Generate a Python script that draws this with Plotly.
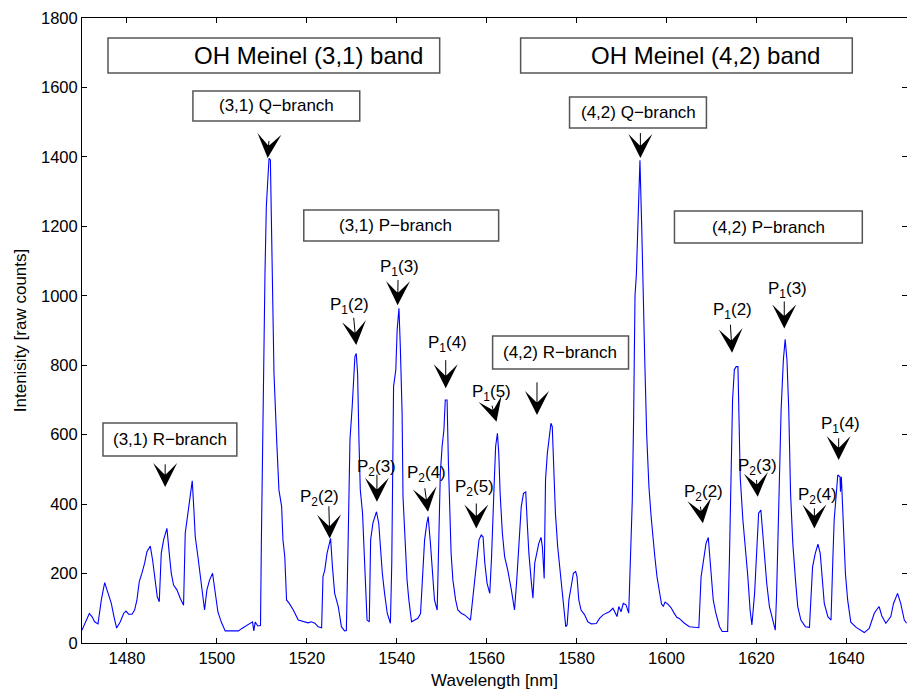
import plotly.graph_objects as go

# OH Meinel airglow spectrum: wavelength [nm] and intensity [raw counts]
wavelength_nm = [
    1470.00, 1470.74, 1471.63, 1472.22, 1472.81, 1473.56, 1474.30, 1475.04, 1475.78, 1476.52,
    1477.11, 1477.70, 1478.52, 1479.26, 1479.78, 1480.37, 1481.11, 1481.70, 1482.22, 1482.74,
    1483.33, 1483.93, 1484.44, 1485.19, 1485.70, 1486.30, 1486.74, 1487.19, 1487.63, 1488.15,
    1488.89, 1489.41, 1489.85, 1490.37, 1491.11, 1491.85, 1492.59, 1492.96, 1493.56, 1494.07,
    1494.52, 1494.89, 1495.19, 1495.78, 1496.30, 1496.81, 1497.26, 1497.78, 1498.37, 1499.04,
    1499.63, 1500.22, 1500.96, 1501.85, 1503.33, 1504.81, 1505.56, 1506.44, 1507.41, 1507.93,
    1508.22, 1508.52, 1509.11, 1509.70, 1509.90, 1510.30, 1510.70, 1511.00, 1511.60, 1511.90,
    1512.30, 1512.70, 1513.30, 1513.80, 1514.40, 1514.70, 1515.10, 1515.50, 1516.10, 1517.00,
    1518.10, 1519.20, 1520.30, 1521.00, 1521.80, 1522.50, 1523.30, 1523.60, 1524.00, 1524.50,
    1525.30, 1525.70, 1526.20, 1527.00, 1527.70, 1528.40, 1528.80, 1529.20, 1529.60, 1530.10,
    1530.70, 1531.00, 1531.30, 1531.60, 1531.90, 1532.40, 1532.90, 1533.40, 1533.90, 1534.20,
    1534.70, 1535.50, 1536.00, 1536.30, 1536.80, 1537.30, 1537.90, 1538.60, 1538.90, 1539.30,
    1539.80, 1540.10, 1540.50, 1540.80, 1541.20, 1541.40, 1541.80, 1542.30, 1542.70, 1543.30,
    1544.00, 1544.70, 1545.30, 1545.70, 1546.20, 1546.70, 1547.00, 1547.50, 1547.90, 1548.40,
    1549.00, 1549.30, 1549.70, 1550.10, 1550.50, 1550.80, 1551.20, 1551.50, 1551.80, 1552.10,
    1552.50, 1553.10, 1553.60, 1554.40, 1555.10, 1555.90, 1556.40, 1556.80, 1557.30, 1557.90,
    1558.30, 1558.80, 1559.20, 1559.60, 1560.10, 1560.70, 1561.10, 1561.60, 1562.00, 1562.40,
    1562.70, 1563.00, 1563.50, 1564.00, 1564.70, 1565.50, 1566.20, 1566.70, 1567.20, 1567.70,
    1568.20, 1568.70, 1569.00, 1569.40, 1569.90, 1570.30, 1570.70, 1571.20, 1571.60, 1572.10,
    1572.40, 1572.80, 1573.10, 1573.50, 1573.90, 1574.30, 1574.60, 1574.90, 1575.30, 1575.80,
    1576.40, 1577.00, 1577.60, 1577.90, 1578.30, 1578.80, 1579.30, 1579.80, 1580.10, 1580.50,
    1581.00, 1581.80, 1582.50, 1583.30, 1584.40, 1585.10, 1585.90, 1586.60, 1587.30, 1588.10,
    1588.70, 1589.00, 1589.40, 1589.90, 1590.40, 1591.00, 1591.60, 1591.90, 1592.40, 1592.70,
    1593.00, 1593.30, 1593.70, 1594.10, 1594.50, 1594.80, 1595.20, 1595.60, 1596.10, 1596.60,
    1597.00, 1597.40, 1597.90, 1598.40, 1598.90, 1599.30, 1599.70, 1600.30, 1601.00, 1601.70,
    1602.30, 1602.90, 1604.00, 1605.10, 1606.20, 1607.20, 1607.70, 1608.20, 1608.80, 1609.30,
    1609.70, 1610.00, 1610.40, 1611.00, 1611.80, 1612.40, 1613.30, 1613.60, 1614.00, 1614.40,
    1614.70, 1615.10, 1615.50, 1615.90, 1616.10, 1616.40, 1617.00, 1617.60, 1618.10, 1618.60,
    1619.00, 1619.60, 1620.10, 1620.50, 1621.00, 1621.40, 1621.90, 1622.30, 1622.90, 1623.60,
    1624.20, 1624.50, 1625.00, 1625.50, 1626.00, 1626.40, 1626.80, 1627.20, 1627.60, 1628.10,
    1628.70, 1629.20, 1629.90, 1630.90, 1631.80, 1632.10, 1632.50, 1633.10, 1633.70, 1634.20,
    1634.60, 1635.10, 1635.90, 1636.60, 1637.00, 1637.30, 1637.90, 1638.10, 1638.60, 1638.70,
    1638.90, 1639.30, 1639.80, 1640.30, 1641.00, 1642.20, 1643.30, 1644.00, 1645.10, 1646.20,
    1646.70, 1647.30, 1647.90, 1648.80, 1649.90, 1650.50, 1651.40, 1652.10, 1652.90, 1653.40,
]

intensity = [
    37, 61, 85, 76, 61, 55, 124, 174, 143, 114,
    76, 43, 61, 85, 92, 83, 83, 95, 124, 177,
    201, 230, 263, 279, 239, 181, 133, 119, 258, 297,
    330, 258, 201, 167, 153, 129, 109, 316, 374, 431,
    467, 383, 306, 249, 191, 133, 95, 153, 181, 201,
    143, 90, 61, 35, 35, 35, 42, 49, 55, 61,
    35, 60, 49, 50, 297, 777, 1065, 1257, 1396, 1391,
    1065, 777, 585, 441, 393, 297, 249, 124, 114, 95,
    66, 61, 58, 61, 57, 47, 44, 191, 210, 258,
    301, 220, 143, 105, 47, 35, 36, 297, 585, 681,
    825, 834, 777, 585, 441, 374, 220, 66, 61, 297,
    345, 378, 345, 277, 201, 143, 85, 57, 230, 739,
    787, 902, 964, 854, 662, 421, 297, 181, 124, 61,
    66, 71, 85, 181, 297, 345, 364, 287, 201, 124,
    95, 277, 489, 566, 614, 700, 700, 518, 354, 258,
    181, 124, 95, 85, 81, 71, 66, 114, 181, 249,
    297, 311, 306, 230, 172, 143, 249, 431, 566, 604,
    546, 431, 316, 249, 210, 153, 95, 181, 297, 393,
    431, 435, 354, 258, 181, 129, 230, 258, 287, 304,
    277, 186, 470, 546, 595, 633, 623, 527, 374, 277,
    201, 124, 47, 52, 124, 162, 201, 206, 191, 124,
    95, 81, 61, 55, 56, 71, 81, 86, 90, 100,
    86, 76, 105, 90, 114, 110, 86, 220, 412, 652,
    1000, 1060, 1220, 1390, 1195, 990, 800, 600, 450, 362,
    300, 250, 190, 150, 112, 106, 118, 112, 102, 86,
    74, 70, 57, 47, 45, 44, 191, 239, 287, 304,
    239, 181, 124, 85, 47, 33, 32, 33, 239, 527,
    700, 787, 796, 796, 671, 479, 354, 268, 191, 95,
    52, 143, 268, 374, 383, 316, 239, 172, 105, 66,
    37, 143, 431, 671, 815, 875, 815, 671, 431, 287,
    181, 105, 66, 47, 45, 143, 220, 258, 285, 258,
    181, 114, 76, 66, 239, 354, 450, 484, 479, 436,
    479, 335, 201, 124, 60, 45, 35, 30, 42, 85,
    95, 105, 78, 57, 76, 114, 143, 114, 66, 57,
]

x_tick_values = [1480, 1500, 1520, 1540, 1560, 1580, 1600, 1620, 1640]
y_tick_values = [0, 200, 400, 600, 800, 1000, 1200, 1400, 1600, 1800]

# Framed captions: text and its anchor (nm, counts), font size
box_texts = ["OH Meinel (3,1) band", "OH Meinel (4,2) band",
             "(3,1) Q\u2212branch", "(4,2) Q\u2212branch",
             "(3,1) P\u2212branch", "(4,2) P\u2212branch",
             "(3,1) R\u2212branch", "(4,2) R\u2212branch"]
box_text_x = [1520.3, 1608.7, 1513.2, 1593.7, 1539.8, 1622.7, 1489.6, 1576.4]
box_text_y = [1691, 1691, 1547, 1528, 1202, 1198, 586, 837]
box_font = [24, 24, 17, 17, 17, 17, 17, 17]
# Frame extents of the captions (nm, counts)
frame_x0 = [1475.78, 1567.56, 1494.67, 1578.44, 1519.33, 1601.78, 1474.67, 1561.33]
frame_x1 = [1549.56, 1641.33, 1531.78, 1608.89, 1562.67, 1643.56, 1504.44, 1591.56]
frame_y0 = [1641.7, 1641.7, 1503.5, 1483.3, 1157.8, 1152.1, 538.6, 789.2]
frame_y1 = [1742.5, 1742.5, 1589.9, 1572.6, 1247.1, 1244.2, 633.6, 884.2]

# Line labels (P_n(J)) placed beside their arrows
line_texts = ["P<sub>2</sub>(2)", "P<sub>1</sub>(2)", "P<sub>2</sub>(3)", "P<sub>1</sub>(3)",
              "P<sub>2</sub>(4)", "P<sub>1</sub>(4)", "P<sub>2</sub>(5)", "P<sub>1</sub>(5)",
              "P<sub>2</sub>(2)", "P<sub>1</sub>(2)", "P<sub>2</sub>(3)", "P<sub>1</sub>(3)",
              "P<sub>2</sub>(4)", "P<sub>1</sub>(4)"]
line_x = [1522.9, 1529.5, 1535.6, 1540.7, 1546.6, 1551.4, 1557.3, 1561.0,
          1608.2, 1614.6, 1620.3, 1627.0, 1633.6, 1638.7]
line_y = [418, 970, 503, 1081, 488, 860, 447, 721,
          433, 956, 508, 1018, 423, 629]

# Arrows: tail (nm, counts) -> tip (nm, counts)
arrow_tail_x = [1488.5, 1511.6, 1524.9, 1530.4, 1535.6, 1540.3, 1546.2, 1550.9, 1557.7, 1561.1,
                1571.2, 1594.2, 1607.5, 1614.2, 1620.0, 1626.2, 1632.9, 1638.3]
arrow_tail_y = [519, 1450, 398, 941, 489, 1050, 450, 819, 406, 688,
                755, 1473, 397, 921, 474, 988, 392, 594]
arrow_tip_x = [1488.5, 1511.3, 1525.1, 1531.0, 1535.6, 1540.2, 1546.96, 1550.9, 1557.7, 1562.2,
               1571.2, 1594.2, 1608.1, 1614.6, 1620.3, 1626.2, 1632.9, 1638.3]
arrow_tip_y = [449, 1397, 301, 858, 407, 973, 378, 734, 330, 637,
               657, 1397, 345, 836, 421, 906, 330, 527]

FONT = "Liberation Sans, Arial, Helvetica, sans-serif"

fig = go.Figure()
fig.add_trace(go.Scatter(
    x=wavelength_nm, y=intensity, mode="lines",
    line=dict(color="#0000ff", width=1.1), showlegend=False, hoverinfo="x+y",
))

shapes = []
for x0, x1, y0, y1 in zip(frame_x0, frame_x1, frame_y0, frame_y1):
    shapes.append(dict(
        type="rect", xref="x", yref="y", x0=x0, x1=x1, y0=y0, y1=y1,
        line=dict(color="#555555", width=1.5), fillcolor="white", layer="above",
    ))

annotations = []
for t, x, y, fs in zip(box_texts, box_text_x, box_text_y, box_font):
    annotations.append(dict(
        x=x, y=y, xref="x", yref="y", text=t, showarrow=False,
        font=dict(family=FONT, size=fs, color="black"),
    ))

for t, x, y in zip(line_texts, line_x, line_y):
    annotations.append(dict(
        x=x, y=y, xref="x", yref="y", text=t, showarrow=False,
        font=dict(family=FONT, size=17, color="black"),
    ))

for tx, ty, hx, hy in zip(arrow_tail_x, arrow_tail_y, arrow_tip_x, arrow_tip_y):
    annotations.append(dict(
        x=hx, y=hy, xref="x", yref="y", ax=tx, ay=ty, axref="x", ayref="y",
        text="", showarrow=True, arrowhead=3, arrowsize=4, arrowwidth=1,
        arrowcolor="black", standoff=0, startstandoff=0,
    ))

axis_common = dict(
    showline=True, linecolor="black", linewidth=1, mirror="ticks",
    ticks="inside", ticklen=5, tickwidth=1, tickcolor="black",
    showgrid=False, zeroline=False,
    tickfont=dict(family=FONT, size=16.5, color="black"),
)

fig.update_layout(
    width=907, height=690,
    margin=dict(l=82, r=0, t=18, b=47),
    paper_bgcolor="white", plot_bgcolor="white",
    shapes=shapes,
    annotations=annotations,
    xaxis=dict(range=[1470, 1653.5], tickvals=x_tick_values,
               title=dict(text="Wavelength [nm]", font=dict(family=FONT, size=17, color="black"),
                          standoff=8),
               **axis_common),
    yaxis=dict(range=[0, 1800], tickvals=y_tick_values,
               title=dict(text="Intenisity [raw counts]", font=dict(family=FONT, size=17, color="black"),
                          standoff=10),
               **axis_common),
)

fig.write_html("out.html")
